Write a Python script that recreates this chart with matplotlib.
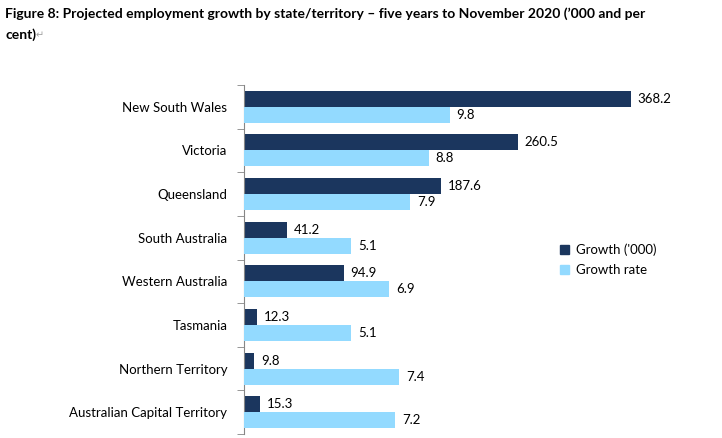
import numpy as np
import matplotlib.pyplot as plt
from matplotlib.patches import Patch

states = ["New South Wales", "Victoria", "Queensland", "South Australia",
          "Western Australia", "Tasmania", "Northern Territory",
          "Australian Capital Territory"]
growth_000 = [368.2, 260.5, 187.6, 41.2, 94.9, 12.3, 9.8, 15.3]
growth_rate = [9.8, 8.8, 7.9, 5.1, 6.9, 5.1, 7.4, 7.2]

DARK = "#1b365e"
LIGHT = "#93daff"
FONT = ["Lato", "DejaVu Sans"]

plt.rcParams["font.family"] = FONT

fig = plt.figure(figsize=(7.22, 4.38), dpi=100)
ax = fig.add_axes([244 / 722, 4 / 438, 420 / 722, 349 / 438])
ax2 = ax.twiny()

y = np.arange(len(states))
h = 0.366

b1 = ax.barh(y - h / 2, growth_000, height=h, color=DARK)
b2 = ax2.barh(y + h / 2, growth_rate, height=h, color=LIGHT)
ax.bar_label(b1, fmt="%.1f", padding=5, fontsize=9.5)
ax2.bar_label(b2, fmt="%.1f", padding=5, fontsize=9.5)

ax.set_xlim(0, 400)
ax2.set_xlim(0, 20)
for a in (ax, ax2):
    a.set_ylim(len(states) - 0.5, -0.5)
    for s in ("top", "right", "bottom"):
        a.spines[s].set_visible(False)
    a.set_xticks([])
ax2.spines["left"].set_visible(False)

ax.spines["left"].set_color("#868686")
ax.set_yticks(y)
ax.set_yticklabels(states, fontsize=9.5)
ax.tick_params(axis="y", which="major", length=0, pad=12)
ax.set_yticks(np.arange(len(states) + 1) - 0.5, minor=True)
ax.tick_params(axis="y", which="minor", length=5, color="#868686")

handles = [Patch(color=DARK), Patch(color=LIGHT)]
fig.legend(handles, ["Growth ('000)", "Growth rate"], loc="upper left",
           bbox_to_anchor=(548 / 722, 1 - 232 / 438), frameon=False,
           fontsize=9.5, handlelength=0.7, handleheight=0.7,
           handletextpad=0.5, labelspacing=0.6)

fig.text(5 / 722, 1 - 7 / 438,
         "Figure 8: Projected employment growth by state/territory \u2013 five years to November 2020 (\u2019000 and per",
         fontsize=10, fontweight="bold", va="top", ha="left")
fig.text(5 / 722, 1 - 28 / 438, "cent)", fontsize=10, fontweight="bold",
         va="top", ha="left")
fig.text(36 / 722, 1 - 30 / 438, "\u21b5", fontsize=7, color="#a0a0a0",
         va="top", ha="left", family="DejaVu Sans")

fig.savefig("out.png", dpi=100)
